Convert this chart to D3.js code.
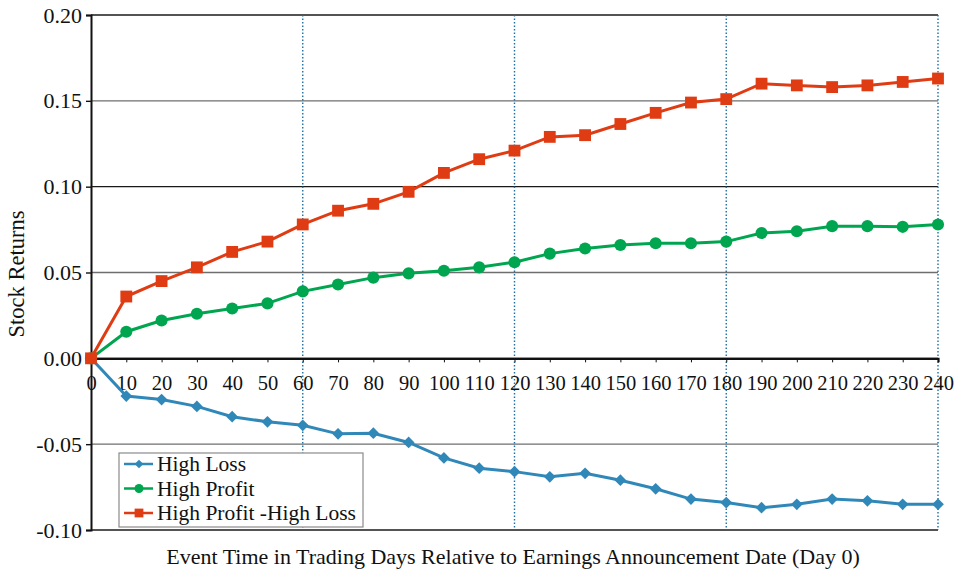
<!DOCTYPE html>
<html>
<head>
<meta charset="utf-8">
<script src="https://cdn.jsdelivr.net/npm/d3@7"></script>
<style>
  body { margin: 0; background: #fff; }
  svg { font-family: "Liberation Serif", "DejaVu Serif", serif; }
</style>
</head>
<body>
<script>
// event days and the three return series
var days = [0, 10, 20, 30, 40, 50, 60, 70, 80, 90, 100, 110, 120, 130, 140, 150, 160, 170, 180, 190, 200, 210, 220, 230, 240];
var highLoss = [0, -0.022, -0.024, -0.028, -0.034, -0.037, -0.039, -0.044, -0.0436, -0.049, -0.058, -0.064, -0.066,
    -0.069, -0.067, -0.071, -0.076, -0.082, -0.084, -0.087, -0.085, -0.082, -0.083, -0.085, -0.085];
var highProfit = [0, 0.0155, 0.022, 0.026, 0.029, 0.032, 0.039, 0.043, 0.047, 0.0495, 0.051, 0.053, 0.056,
    0.061, 0.064, 0.066, 0.067, 0.067, 0.068, 0.073, 0.074, 0.077, 0.077, 0.0766, 0.078];
var spread = [0, 0.036, 0.045, 0.053, 0.062, 0.068, 0.078, 0.086, 0.090, 0.097, 0.108, 0.116, 0.121,
    0.129, 0.130, 0.1365, 0.143, 0.149, 0.151, 0.160, 0.159, 0.158, 0.159, 0.161, 0.163];
var yTicks = [-0.10, -0.05, 0.00, 0.05, 0.10, 0.15, 0.20];
var markerDays = [60, 120, 180, 240];
var seriesNames = ["High Loss", "High Profit", "High Profit -High Loss"];

var width = 954, height = 576;
var mLeft = 91, mRight = 938, mTop = 15, mBottom = 530;

var svg = d3.select("body").append("svg").attr("width", width).attr("height", height);

var x = d3.scaleLinear().domain([0, 240]).range([mLeft, mRight]);
var y = d3.scaleLinear().domain([-0.10, 0.20]).range([mBottom, mTop]);

// horizontal grid
svg.append("g").selectAll("line").data(yTicks).enter().append("line")
    .attr("x1", mLeft).attr("x2", mRight)
    .attr("y1", d => y(d)).attr("y2", d => y(d))
    .style("stroke", (d, i) => (i % 2 == 0) ? "#1a1a1a" : "#6e6e6e")
    .style("stroke-width", 1.4);

// dotted verticals
svg.append("g").selectAll("line").data(markerDays).enter().append("line")
    .attr("x1", d => x(d)).attr("x2", d => x(d))
    .attr("y1", mTop).attr("y2", mBottom)
    .style("stroke", "#1f6fa3")
    .style("stroke-width", 1.4)
    .style("stroke-dasharray", "1.5,2");

// y axis (plain hyphen for negatives, like the original)
var yAxis = svg.append("g").attr("transform", "translate(" + mLeft + ",0)")
    .call(d3.axisLeft(y).tickValues(yTicks).tickFormat(d => d.toFixed(2)).tickSize(5).tickPadding(4));
yAxis.select(".domain").style("stroke", "#111").style("stroke-width", 2);
yAxis.selectAll(".tick line").style("stroke", "#111").style("stroke-width", 1.4);
yAxis.selectAll("text").style("font-size", "22px").style("fill", "#111")
    .style("font-family", "Liberation Serif, serif");

// x axis at zero
var xAxis = svg.append("g").attr("transform", "translate(0," + y(0) + ")")
    .call(d3.axisBottom(x).tickValues(days).tickFormat(d3.format("d")).tickSize(4).tickPadding(13));
xAxis.select(".domain").style("stroke", "#111").style("stroke-width", 2.2);
xAxis.selectAll(".tick line").style("stroke", "#111").style("stroke-width", 1);
xAxis.selectAll("text").style("font-size", "20.5px").style("fill", "#111")
    .style("font-family", "Liberation Serif, serif");

var series = [
    { name: seriesNames[0], values: highLoss, color: "#3088b9", shape: d3.symbolDiamond2, size: 88 },
    { name: seriesNames[1], values: highProfit, color: "#00a550", shape: d3.symbolCircle, size: 115 },
    { name: seriesNames[2], values: spread, color: "#e03c14", shape: d3.symbolSquare, size: 140 }
];

var line = d3.line().x(d => x(d[0])).y(d => y(d[1]));

series.forEach(function(s) {
    var pts = days.map((d, i) => [d, s.values[i]]);
    svg.append("path").datum(pts)
        .attr("d", line)
        .style("fill", "none")
        .style("stroke", s.color)
        .style("stroke-width", 3);
    svg.append("g").selectAll("path").data(pts).enter().append("path")
        .attr("transform", d => "translate(" + x(d[0]) + "," + y(d[1]) + ")")
        .attr("d", d3.symbol().type(s.shape).size(s.size))
        .style("fill", s.color);
});

// legend
var lg = svg.append("g");
lg.append("rect").attr("x", 119).attr("y", 453).attr("width", 244).attr("height", 74)
    .style("fill", "#fff").style("stroke", "#8a8a8a").style("stroke-width", 1.2);
series.forEach(function(s, i) {
    var cy = 464 + i * 24.5;
    lg.append("line").attr("x1", 124).attr("x2", 153).attr("y1", cy).attr("y2", cy)
        .style("stroke", s.color).style("stroke-width", 2.5);
    lg.append("path").attr("transform", "translate(139," + cy + ")")
        .attr("d", d3.symbol().type(s.shape).size(s.size * 0.55))
        .style("fill", s.color);
    lg.append("text").attr("x", 157).attr("y", cy + 7)
        .style("font-size", "21.5px").style("fill", "#111")
        .text(s.name);
});

// axis titles
svg.append("text").attr("x", 513).attr("y", 564).attr("text-anchor", "middle")
    .style("font-size", "22px").style("fill", "#111")
    .text("Event Time in Trading Days Relative to Earnings Announcement Date (Day 0)");
svg.append("text").attr("transform", "translate(24,274) rotate(-90)").attr("text-anchor", "middle")
    .style("font-size", "22.5px").style("fill", "#111")
    .text("Stock Returns");
</script>
</body>
</html>
